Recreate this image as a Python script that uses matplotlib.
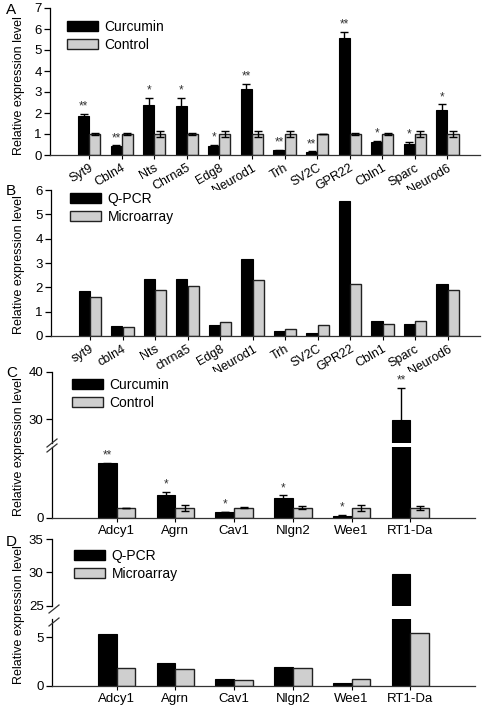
import matplotlib
matplotlib.use("Agg")
import matplotlib.pyplot as plt
import numpy as np
from matplotlib.lines import Line2D

plt.rcParams['font.family'] = ['Liberation Sans', 'DejaVu Sans']

W, H = 484, 710

# panel A: curcumin vs control (q-pcr)
genes_a = ['Syt9', 'Cbln4', 'Nts', 'Chrna5', 'Edg8', 'Neurod1', 'Trh', 'SV2C',
           'GPR22', 'Cbln1', 'Sparc', 'Neurod6']
curc_a = [1.85, 0.42, 2.36, 2.35, 0.45, 3.15, 0.22, 0.14, 5.56, 0.61, 0.51, 2.15]
curc_a_err = [0.12, 0.04, 0.35, 0.36, 0.02, 0.25, 0.02, 0.03, 0.30, 0.05, 0.10, 0.26]
ctrl_a = [1.0, 1.0, 1.0, 1.0, 1.0, 1.0, 1.0, 1.0, 1.0, 1.0, 1.0, 1.0]
ctrl_a_err = [0.03, 0.03, 0.14, 0.04, 0.12, 0.13, 0.15, 0.01, 0.07, 0.04, 0.13, 0.12]
sig_a = ['**', '**', '*', '*', '*', '**', '**', '**', '**', '*', '*', '*']

# panel B: q-pcr vs microarray
genes_b = ['syt9', 'cbln4', 'Nts', 'chrna5', 'Edg8', 'Neurod1', 'Trh', 'SV2C',
           'GPR22', 'Cbln1', 'Sparc', 'Neurod6']
qpcr_b = [1.85, 0.42, 2.36, 2.36, 0.47, 3.16, 0.22, 0.14, 5.56, 0.60, 0.51, 2.15]
micro_b = [1.59, 0.38, 1.88, 2.05, 0.58, 2.32, 0.29, 0.47, 2.12, 0.51, 0.62, 1.88]

# panel C
genes_c = ['Adcy1', 'Agrn', 'Cav1', 'Nlgn2', 'Wee1', 'RT1-Da']
curc_c = [5.3, 2.25, 0.6, 1.9, 0.22, 29.7]
curc_c_err = [0.05, 0.3, 0.03, 0.3, 0.05, 7.0]
ctrl_c = [1.0, 1.0, 1.0, 1.0, 1.0, 1.0]
ctrl_c_err = [0.0, 0.3, 0.05, 0.15, 0.3, 0.2]
sig_c = ['**', '*', '*', '*', '*', '**']

# panel D
qpcr_d = [5.3, 2.3, 0.68, 1.96, 0.3, 29.7]
micro_d = [1.8, 1.72, 0.58, 1.8, 0.68, 5.5]

BLACK = '#000000'
GRAY = '#cfcfcf'
EDGE = '#222222'

fig = plt.figure(figsize=(W / 100, H / 100), dpi=100)


def px_axes(left, top, right, bottom):
    return fig.add_axes([left / W, 1 - bottom / H, (right - left) / W, (bottom - top) / H])


def style(ax, bottom_spine=True):
    for s in ['top', 'right']:
        ax.spines[s].set_visible(False)
    ax.spines['left'].set_linewidth(0.9)
    ax.spines['bottom'].set_linewidth(0.9)
    ax.spines['bottom'].set_color('#333333')
    if not bottom_spine:
        ax.spines['bottom'].set_visible(False)
    ax.tick_params(axis='y', labelsize=9.5, length=4, width=0.9, pad=2)
    ax.tick_params(axis='x', labelsize=9, length=3, width=0.8, pad=2)


def draw_pair(ax, v1, v2, e1=None, e2=None, w=0.34):
    x = np.arange(len(v1))
    ax.bar(x - w / 2, v1, w, color=BLACK, edgecolor=BLACK, linewidth=0.8,
           yerr=e1, error_kw=dict(lw=1.0, capsize=3, capthick=1.0, ecolor='black'))
    ax.bar(x + w / 2, v2, w, color=GRAY, edgecolor=EDGE, linewidth=1.0,
           yerr=e2, error_kw=dict(lw=1.0, capsize=3, capthick=1.0, ecolor='black'))
    return x


def stars(ax, x, tops, marks, w=0.34):
    for xi, t, m in zip(x, tops, marks):
        ax.annotate(m, (xi - w / 2, t), xytext=(0, 1), textcoords='offset points',
                    ha='center', va='bottom', fontsize=8.5, color='#333333')


def legend(ax, labels, x, y):
    h = [plt.Rectangle((0, 0), 1, 1, facecolor=BLACK, edgecolor=BLACK),
         plt.Rectangle((0, 0), 1, 1, facecolor=GRAY, edgecolor=EDGE)]
    ax.legend(h, labels, loc='upper left', bbox_to_anchor=(x / W, 1 - y / H),
              bbox_transform=fig.transFigure, frameon=False, fontsize=10,
              handlelength=2.2, handleheight=0.75, labelspacing=0.3,
              handletextpad=0.5, borderpad=0, borderaxespad=0)


def ylabel(y):
    fig.text(19 / W, 1 - y / H, 'Relative expression level', rotation=90,
             ha='center', va='center', fontsize=9)


def panel_letter(s, x, y):
    fig.text(x / W, 1 - y / H, s, ha='left', va='center', fontsize=11)


# ---- A ----
ax = px_axes(50, 8, 480, 155)
style(ax)
x = draw_pair(ax, curc_a, ctrl_a, curc_a_err, ctrl_a_err)
ax.set_xlim(-1.2, 12.0)
ax.set_ylim(0, 7)
ax.set_yticks(range(8))
ax.set_xticks(x)
ax.set_xticklabels(genes_a, rotation=30, ha='right', rotation_mode='anchor')
stars(ax, x, np.array(curc_a) + np.array(curc_a_err), sig_a)
legend(ax, ['Curcumin', 'Control'], 67, 20)
ylabel(86)
panel_letter('A', 6, 10)

# ---- B ----
ax = px_axes(51, 190, 480, 336)
style(ax)
x = draw_pair(ax, qpcr_b, micro_b)
ax.set_xlim(-1.2, 12.0)
ax.set_ylim(0, 6)
ax.set_yticks(range(7))
ax.set_xticks(x)
ax.set_xticklabels(genes_b, rotation=30, ha='right', rotation_mode='anchor')
legend(ax, ['Q-PCR', 'Microarray'], 70, 192)
ylabel(265)
panel_letter('B', 6, 191)


def broken(top_px, gap_top, gap_bot, bot_px, ylo, yhi, lo_ticks, hi_ticks):
    up = px_axes(52, top_px, 475, gap_top)
    lo = px_axes(52, gap_bot, 475, bot_px)
    style(up, bottom_spine=False)
    style(lo)
    up.set_ylim(*yhi)
    lo.set_ylim(*ylo)
    up.set_yticks(hi_ticks)
    lo.set_yticks(lo_ticks)
    up.set_xticks([])
    for a in (up, lo):
        a.set_xlim(-1.1, 6.1)
        a.tick_params(axis='x', labelsize=9.5)
    return up, lo


def slash(xc, yc, dx=5, dy=4):
    fig.add_artist(Line2D([(xc - dx) / W, (xc + dx) / W],
                          [1 - (yc + dy) / H, 1 - (yc - dy) / H],
                          color='#333333', lw=0.9))


# ---- C ----
up, lo = broken(372, 443, 447, 518, (0, 6.9), (24.9, 40), [0], [30, 40])
for a in (up, lo):
    draw_pair(a, curc_c, ctrl_c, curc_c_err, ctrl_c_err, w=0.32)
x = np.arange(len(genes_c))
lo.set_xticks(x)
lo.set_xticklabels(genes_c)
tops = np.array(curc_c) + np.array(curc_c_err)
for xi, t, m in zip(x, tops, sig_c):
    a = up if t > 6.9 else lo
    stars(a, [xi], [t], [m], w=0.32)
slash(52, 443)
slash(52, 448)
legend(lo, ['Curcumin', 'Control'], 72, 378)
ylabel(447)
panel_letter('C', 6, 373)

# ---- D ----
up, lo = broken(539, 605.7, 619, 685.7, (0, 6.9), (25, 35), [0, 5], [25, 30, 35])
for a in (up, lo):
    draw_pair(a, qpcr_d, micro_d, w=0.32)
lo.set_xticks(x)
lo.set_xticklabels(genes_c)
slash(54, 609)
slash(54, 622)
legend(lo, ['Q-PCR', 'Microarray'], 74, 549)
ylabel(615)
panel_letter('D', 6, 542)

fig.savefig('out.png', dpi=100)
